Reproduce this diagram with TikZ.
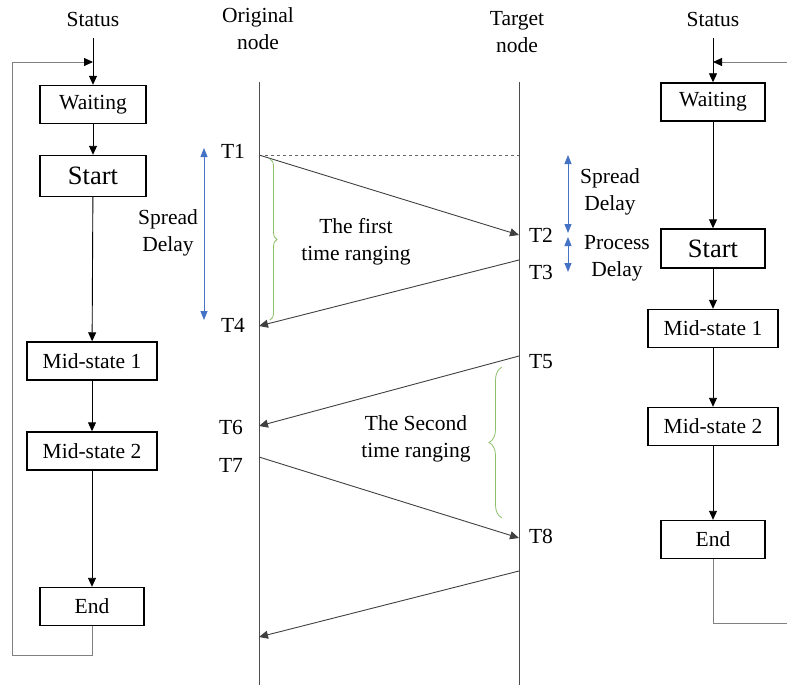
\documentclass[tikz,border=0pt]{standalone}
\usepackage{fontspec}
\setmainfont{Liberation Serif}
\usetikzlibrary{arrows.meta,positioning,decorations.pathreplacing}
\definecolor{delayblue}{HTML}{4472C4}
\definecolor{bracegreen}{HTML}{8CC06A}
\begin{document}
\begin{tikzpicture}[
    x=1pt,
    y=-1pt,
    >={Triangle[width=8pt,length=9pt]},
    font=\fontsize{21.5}{27}\selectfont,
    state/.style={draw, line width=1.4pt, inner sep=0pt, minimum height=38pt},
    flow/.style={->, line width=0.9pt},
    loop/.style={-{Triangle[width=8pt,length=9pt,color=black]},
        line width=0.9pt, draw=gray},
    msg/.style={->, line width=0.9pt, draw=black!75},
    life/.style={line width=1pt, draw=black!70},
    delay/.style={<->, line width=0.9pt, draw=delayblue,
        >={Triangle[width=7pt,length=9pt,fill=delayblue]}},
    range/.style={draw=bracegreen, line width=0.8pt, decorate,
        decoration={brace, amplitude=#1}},
    label/.style={align=center}
]
\useasboundingbox (0,0) rectangle (787,685);

% left state machine
\node (statL) at (93,19) {Status};
\node[state, minimum width=106pt] (waitL) at (93,104.5) {Waiting};
\node[state, minimum width=106pt, minimum height=41pt,
      font=\fontsize{26.5}{30}\selectfont] (startL) at (93,176) {Start};
\node[state, minimum width=130pt] (midaL) at (92,361) {Mid-state 1};
\node[state, minimum width=130pt] (midbL) at (92,451) {Mid-state 2};
\node[state, minimum width=104pt] (endL) at (92,606.5) {End};
\coordinate (joinL) at (93,62);
\coordinate (loopL) at (12,655);
\draw[flow, shorten <=8pt] (statL) -- (waitL);
\draw[flow] (waitL) -- (startL);
\draw[flow] (startL) -- (midaL);
\draw[flow] (midaL) -- (midbL);
\draw[flow] (midbL) -- (endL);
\draw[loop] (endL.south) |- (loopL) |- (joinL);

% right state machine
\node (statR) at (713,19) {Status};
\node[state, minimum width=104pt] (waitR) at (713,102) {Waiting};
\node[state, minimum width=104pt, minimum height=39pt,
      font=\fontsize{26.5}{30}\selectfont] (startR) at (713,248.5) {Start};
\node[state, minimum width=130pt] (midaR) at (713,328.5) {Mid-state 1};
\node[state, minimum width=130pt] (midbR) at (713,426.5) {Mid-state 2};
\node[state, minimum width=104pt] (endR) at (713,539.5) {End};
\coordinate (joinR) at (713,62);
\coordinate (loopR) at (789,623);
\draw[flow, shorten <=8pt] (statR) -- (waitR);
\draw[flow] (waitR) -- (startR);
\draw[flow] (startR) -- (midaR);
\draw[flow] (midaR) -- (midbR);
\draw[flow] (midbR) -- (endR);
\draw[loop] (endR.south) |- (loopR) |- (joinR);

% life lines
\node[label] (orig) at (258,29) {Original\\node};
\node[label] (targ) at (517,32) {Target\\node};
\coordinate (origTop) at (259,82);
\coordinate (origBot) at (259,686);
\coordinate (targTop) at (519,82);
\coordinate (targBot) at (519,686);
\draw[life] (origTop) -- (origBot);
\draw[life] (targTop) -- (targBot);

% time points
\coordinate (t1) at (259,155);
\coordinate (t2) at (519,235);
\coordinate (t3) at (519,260);
\coordinate (t4) at (259,326);
\coordinate (t5) at (519,356);
\coordinate (t6) at (259,426);
\coordinate (t7) at (259,457);
\coordinate (t8) at (519,538);
\coordinate (t9) at (519,571);
\coordinate (t10) at (259,637);
\node (T1) at (233,151) {T1};
\node (T2) at (541,235) {T2};
\node (T3) at (541,272) {T3};
\node (T4) at (233,325) {T4};
\node (T5) at (541,362) {T5};
\node (T6) at (231,427) {T6};
\node (T7) at (231,465) {T7};
\node (T8) at (541,536) {T8};

\draw[dashed, line width=0.8pt, draw=black!60] (t1) -- (519,155);
\draw[msg] (t1) -- (t2);
\draw[msg] (t3) -- (t4);
\draw[msg] (t5) -- (t6);
\draw[msg] (t7) -- (t8);
\draw[msg] (t9) -- (t10);

% delays
\coordinate (sdTop) at (204,148);
\coordinate (sdBot) at (204,320);
\draw[delay] (sdTop) -- (sdBot);
\node[label] (sdL) at (168,233) {Spread\\Delay};
\coordinate (srTop) at (568,155);
\coordinate (srMid) at (568,233);
\coordinate (prTop) at (568,237);
\coordinate (prBot) at (568,272);
\draw[delay] (srTop) -- (srMid);
\draw[delay] (prTop) -- (prBot);
\node[label] (sdR) at (610,192) {Spread\\Delay};
\node[label] (pdR) at (617,258) {Process\\Delay};

% ranging
\draw[range=7pt] (270,159) -- (270,320);
\draw[range=13pt] (502,518) -- (502,367);
\node[label] (first) at (356,242) {The first\\time ranging};
\node[label] (second) at (416,439) {The Second\\time ranging};
\end{tikzpicture}
\end{document}
